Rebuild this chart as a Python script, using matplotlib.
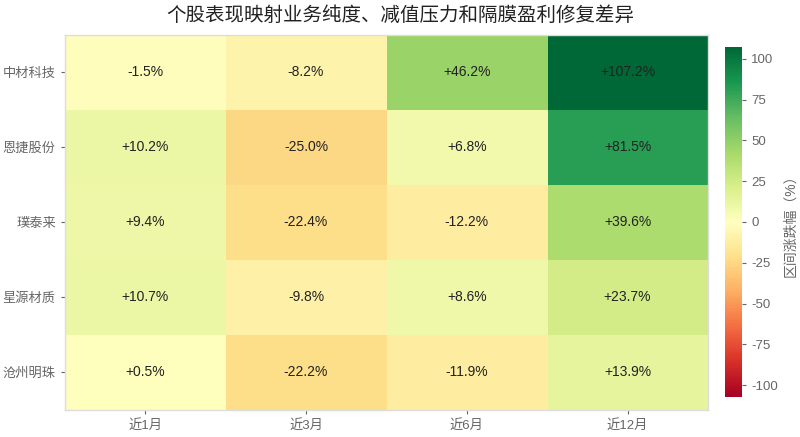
import matplotlib
matplotlib.use("Agg")
import matplotlib.pyplot as plt
import numpy as np

plt.rcParams['font.family'] = ['Liberation Sans', 'Noto Sans CJK SC', 'DejaVu Sans']
plt.rcParams['axes.unicode_minus'] = False

stocks = ['中材科技', '恩捷股份', '璞泰来', '星源材质', '沧州明珠']
periods = ['近1月', '近3月', '近6月', '近12月']
v_1m = [-1.5, 10.2, 9.4, 10.7, 0.5]
v_3m = [-8.2, -25.0, -22.4, -9.8, -22.2]
v_6m = [46.2, 6.8, -12.2, 8.6, -11.9]
v_12m = [107.2, 81.5, 39.6, 23.7, 13.9]

data = np.array([v_1m, v_3m, v_6m, v_12m]).T
vmax = np.abs(data).max()

fig = plt.figure(figsize=(8, 4.37), dpi=100)
ax = fig.add_axes([0.081, 0.062, 0.804, 0.858])
cax = fig.add_axes([0.906, 0.092, 0.022, 0.80])

im = ax.imshow(data, cmap='RdYlGn', vmin=-vmax, vmax=vmax, aspect='auto')

for i in range(data.shape[0]):
    for j in range(data.shape[1]):
        ax.text(j, i, f"{data[i, j]:+.1f}%", ha='center', va='center',
                fontsize=10, color='#222222')

ax.set_xticks(range(len(periods)))
ax.set_xticklabels(periods)
ax.set_yticks(range(len(stocks)))
ax.set_yticklabels(stocks)
ax.tick_params(colors='#666666', labelsize=9.5, length=3, width=0.8)
for s in ax.spines.values():
    s.set_color('#dddddd')
    s.set_linewidth(1)

fig.suptitle('个股表现映射业务纯度、减值压力和隔膜盈利修复差异', fontsize=14,
             y=0.985, color='#222222')

cb = fig.colorbar(im, cax=cax)
cb.set_ticks([-100, -75, -50, -25, 0, 25, 50, 75, 100])
cb.ax.tick_params(colors='#666666', labelsize=9.5, length=3, width=0.8)
cb.outline.set_visible(False)
cb.set_label('区间涨跌幅（%）', color='#666666', fontsize=10, labelpad=4)

fig.savefig('out.png', dpi=100)
